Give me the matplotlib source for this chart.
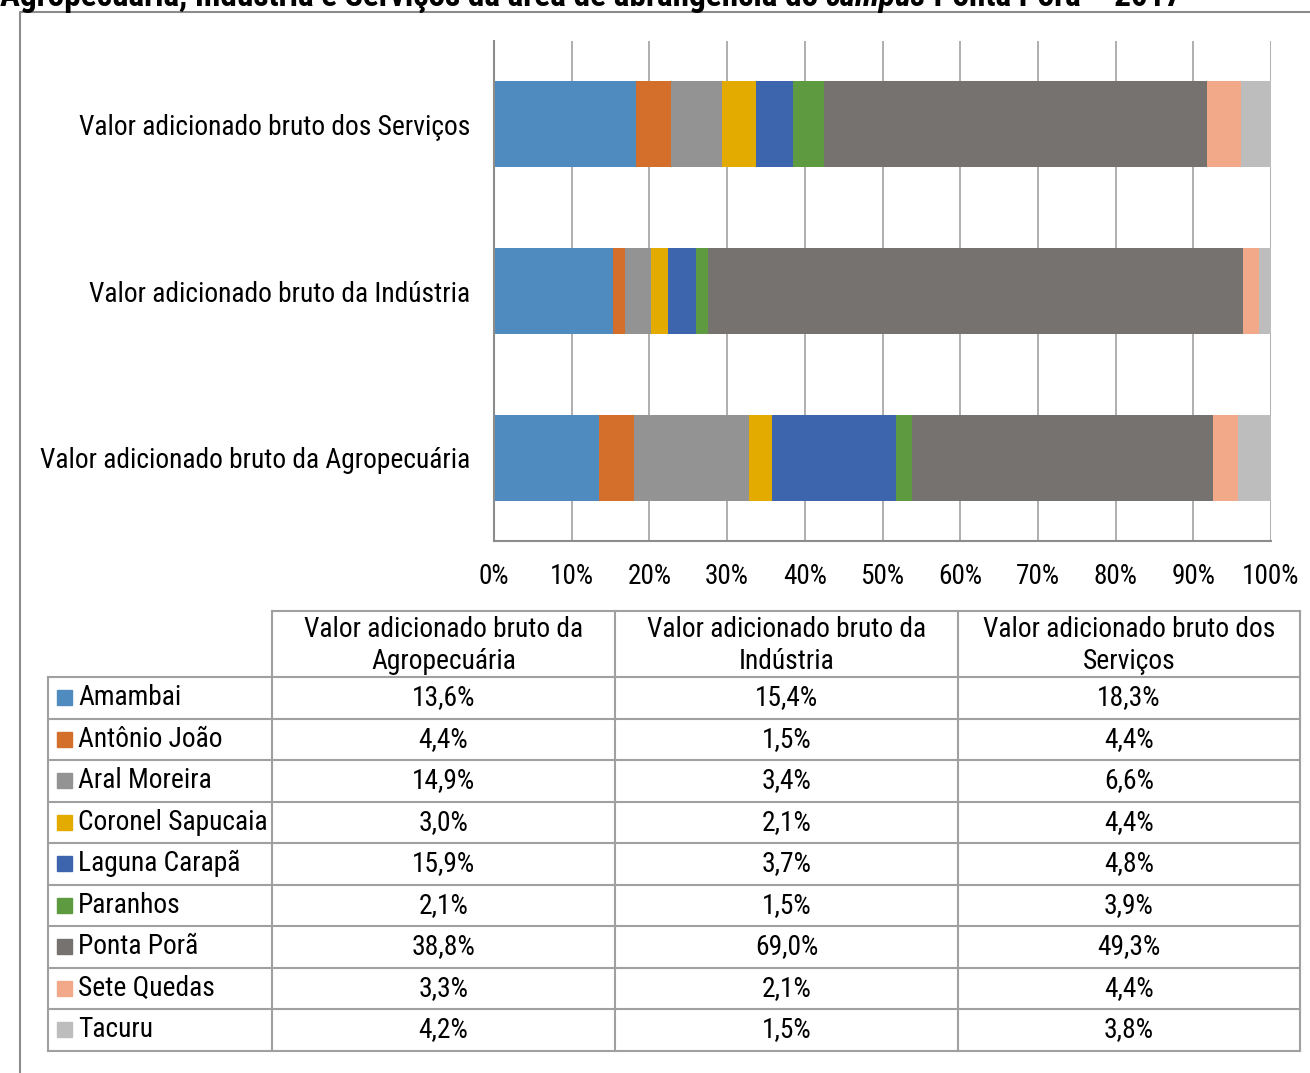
import numpy as np
import matplotlib
matplotlib.use('Agg')
import matplotlib.pyplot as plt
from matplotlib.patches import Rectangle
from matplotlib import font_manager

# pick a narrow font if one is installed
nomes = {f.name for f in font_manager.fontManager.ttflist}
fonte = 'DejaVu Sans'
for cand in ['Liberation Sans Narrow', 'Roboto Condensed', 'Open Sans Condensed',
             'Noto Sans Condensed', 'Lato', 'Roboto', 'Liberation Sans']:
    if cand in nomes:
        fonte = cand
        break
plt.rcParams['font.family'] = [fonte, 'DejaVu Sans']

# data
municipios = ['Amambai', 'Antônio João', 'Aral Moreira', 'Coronel Sapucaia',
              'Laguna Carapã', 'Paranhos', 'Ponta Porã', 'Sete Quedas', 'Tacuru']
agro = [13.6, 4.4, 14.9, 3.0, 15.9, 2.1, 38.8, 3.3, 4.2]
industria = [15.4, 1.5, 3.4, 2.1, 3.7, 1.5, 69.0, 2.1, 1.5]
servicos = [18.3, 4.4, 6.6, 4.4, 4.8, 3.9, 49.3, 4.4, 3.8]
categorias = ['Valor adicionado bruto da Agropecuária',
              'Valor adicionado bruto da Indústria',
              'Valor adicionado bruto dos Serviços']
cores = ['#4f8bbf', '#d46f2b', '#939393', '#e3ab00', '#3c65ae',
         '#5e9a40', '#767270', '#f1a98a', '#bdbdbd']
titulo = ['Agropecuária, Indústria e Serviços da área de abrangência do ',
          'campus', ' Ponta Porã – 2017']

W, H = 1310, 1073
fig = plt.figure(figsize=(W / 100, H / 100), dpi=100)
rend = fig.canvas.get_renderer()


def largura(txt, size, **kw):
    t = fig.text(0, 0, txt, fontsize=size, **kw)
    w = t.get_window_extent(rend).width
    t.remove()
    return w


def ajusta(txt, alvo, **kw):
    return 10 * alvo / largura(txt, 10, **kw)


def px_rect(x0, y0, x1, y1):
    return [x0 / W, 1 - y1 / H, (x1 - x0) / W, (y1 - y0) / H]


fs = min(ajusta('Valor adicionado bruto dos Serviços', 390),
         ajusta('Coronel Sapucaia', 192))
fs_tick = ajusta('100%', 57)

# background axes in pixel coords (frame, title, table)
bg = fig.add_axes([0, 0, 1, 1])
bg.set_xlim(0, W)
bg.set_ylim(H, 0)
bg.axis('off')

# frame
bg.plot([20, 20, W + 5], [H + 5, 12, 12], color='#8c8c8c', lw=1.5)

# cut title
estilos = [{}, {'style': 'italic'}, {}]
tot = sum(largura(p, 10, fontweight='bold', **e) for p, e in zip(titulo, estilos))
fs_tit = 10 * 1185 / tot
x = 0
for parte, e in zip(titulo, estilos):
    bg.text(x, 6, parte, fontsize=fs_tit, fontweight='bold', va='baseline',
            ha='left', color='black', **e)
    x += largura(parte, fs_tit, fontweight='bold', **e)

# bar chart
ax = fig.add_axes(px_rect(494, 41, 1271, 541))
data = np.array([agro, industria, servicos])
pct = data / data.sum(axis=1, keepdims=True) * 100
left = np.zeros(3)
for i, nome in enumerate(municipios):
    ax.barh(range(3), pct[:, i], left=left, height=0.515, color=cores[i],
            zorder=3, label=nome)
    left += pct[:, i]
ax.set_xlim(0, 100)
ax.set_ylim(-0.5, 2.5)
ax.set_xticks(np.arange(0, 101, 10))
ax.set_xticklabels([f'{v}%' for v in range(0, 101, 10)], fontsize=fs_tick)
ax.set_yticks(range(3))
ax.set_yticklabels(categorias, fontsize=fs)
ax.tick_params(axis='x', length=0, pad=16)
ax.tick_params(axis='y', length=0, pad=17)
for lab in ax.get_yticklabels():
    lab.set_va('center_baseline')
ax.grid(axis='x', color='#a8a8a8', lw=1.3, zorder=0)
for s in ['top', 'right']:
    ax.spines[s].set_visible(False)
for s in ['left', 'bottom']:
    ax.spines[s].set_color('#8c8c8c')
    ax.spines[s].set_linewidth(1.5)
    ax.spines[s].set_zorder(4)

# table
col_x = [48, 272, 615, 958, 1300]
head_top = 611
row_y = [677 + 41.5 * k for k in range(len(municipios) + 1)]
lc = '#a0a0a0'
lw = 1.5
bg.plot([272, 1300], [head_top, head_top], color=lc, lw=lw)
for xx in col_x[1:]:
    bg.plot([xx, xx], [head_top, row_y[-1]], color=lc, lw=lw)
bg.plot([48, 48], [row_y[0], row_y[-1]], color=lc, lw=lw)
for y in row_y:
    bg.plot([48, 1300], [y, y], color=lc, lw=lw)
hy = (head_top + row_y[0]) / 2 + 1.5
for j, cat in enumerate(categorias):
    cx = (col_x[j + 1] + col_x[j + 2]) / 2
    partes = cat.rsplit(' ', 1)
    bg.text(cx, hy, partes[0] + '\n' + partes[1], fontsize=fs, ha='center',
            va='center', linespacing=1.25)
for i, nome in enumerate(municipios):
    yc = (row_y[i] + row_y[i + 1]) / 2
    bg.add_patch(Rectangle((57, yc - 7.5), 15, 15, color=cores[i]))
    bg.text(78, yc, nome, fontsize=fs, ha='left', va='center')
    for j, serie in enumerate([agro, industria, servicos]):
        cx = (col_x[j + 1] + col_x[j + 2]) / 2
        bg.text(cx, yc, f'{serie[i]:.1f}%'.replace('.', ','), fontsize=fs,
                ha='center', va='center')

fig.savefig('out.png', dpi=100)
